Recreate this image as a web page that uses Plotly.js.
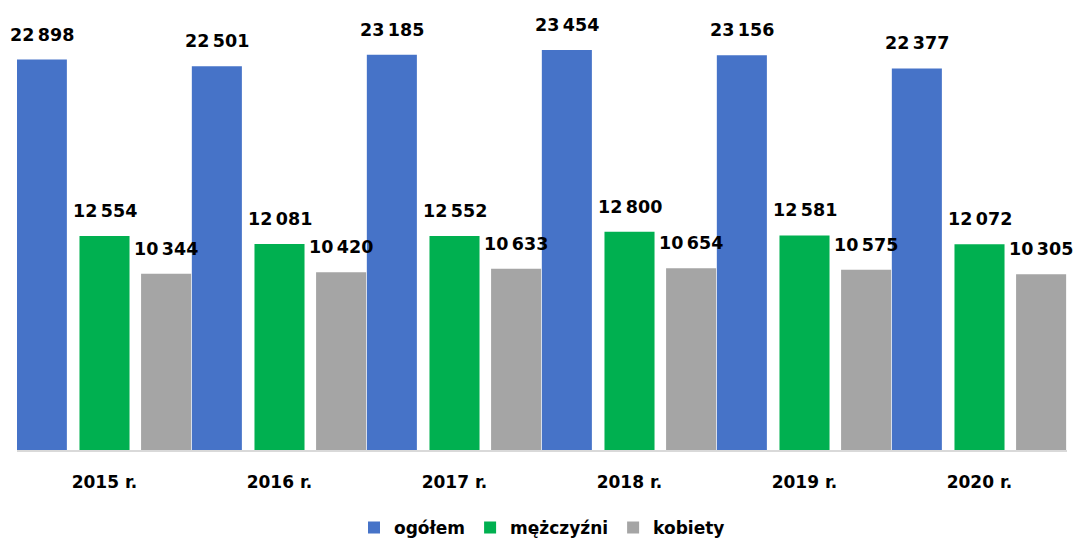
<!DOCTYPE html>
<html>
<head>
<meta charset="utf-8">
<script src="https://cdn.plot.ly/plotly-3.0.1.min.js"></script>
<style>html,body{margin:0;padding:0;background:#fff;}#chart{width:1078px;height:543px;}</style>
</head>
<body>
<div id="chart"></div>
<script>
const categories = ['2015 r.', '2016 r.', '2017 r.', '2018 r.', '2019 r.', '2020 r.'];
const seriesNames = ['ogółem', 'mężczyźni', 'kobiety'];
const ogolem = [22898, 22501, 23185, 23454, 23156, 22377];
const mezczyzni = [12554, 12081, 12552, 12800, 12581, 12072];
const kobiety = [10344, 10420, 10633, 10654, 10575, 10305];

const seriesValues = [ogolem, mezczyzni, kobiety];
const colors = ['#4673C8', '#00B050', '#A5A5A5'];
const centers = [-0.358, 0, 0.352];
const barWidth = 0.286;

function fmt(v) {
  const s = String(v);
  return s.length > 3 ? s.slice(0, s.length - 3) + '\u2009' + s.slice(s.length - 3) : s;
}

const labelFont = {family: 'DejaVu Sans', size: 17.5, color: '#000'};

const traces = seriesValues.map((vals, k) => ({
  type: 'bar',
  name: seriesNames[k],
  x: categories,
  y: vals,
  width: barWidth,
  offset: centers[k] - barWidth / 2,
  marker: {color: colors[k]},
  hoverinfo: 'x+y+name'
}));

const annotations = [];
seriesValues.forEach((vals, k) => {
  vals.forEach((v, i) => {
    annotations.push({
      x: i + centers[k], y: v, xref: 'x', yref: 'y',
      text: '<b>' + fmt(v) + '</b>', showarrow: false,
      yanchor: 'middle', yshift: 25, font: labelFont
    });
  });
});

const layout = {
  width: 1078, height: 543,
  margin: {l: 17, r: 11, t: 10, b: 93, autoexpand: false},
  paper_bgcolor: '#fff', plot_bgcolor: '#fff',
  barmode: 'overlay',
  showlegend: true,
  legend: {
    orientation: 'h', x: 0.5, xanchor: 'center', y: -0.136, yanchor: 'top',
    font: {family: 'DejaVu Sans', size: 17, color: '#000', weight: 'bold'},
    itemwidth: 30, traceorder: 'normal'
  },
  xaxis: {
    type: 'category', range: [-0.5, 5.5],
    showgrid: false, zeroline: false,
    showline: true, linecolor: '#D9D9D9', linewidth: 2,
    ticks: 'outside', ticklen: 16, tickcolor: 'rgba(0,0,0,0)',
    tickfont: {family: 'DejaVu Sans', size: 17, color: '#000', weight: 'bold'}
  },
  yaxis: {
    range: [0, 25806], visible: false, showgrid: false, zeroline: false
  },
  annotations: annotations
};

Plotly.newPlot('chart', traces, layout, {displayModeBar: false, staticPlot: true});
</script>
</body>
</html>
